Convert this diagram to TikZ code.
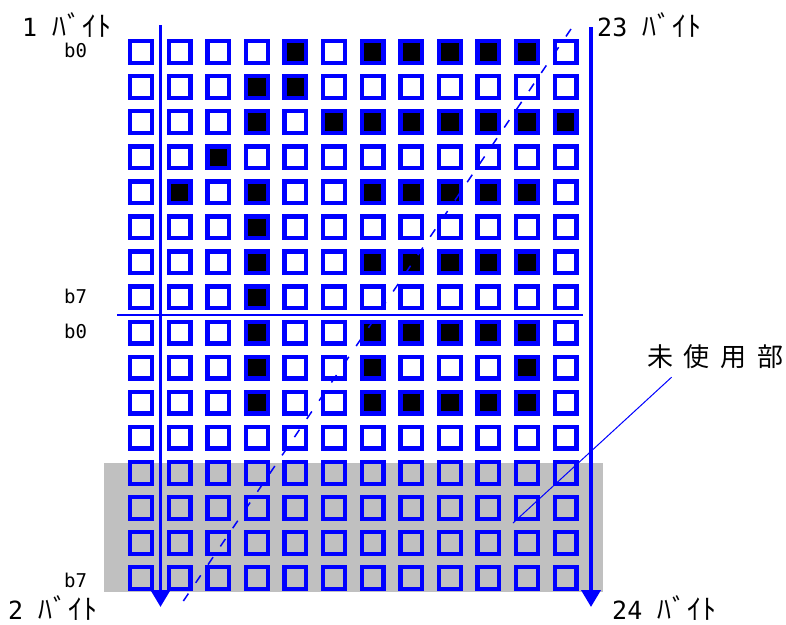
\documentclass[tikz,border=0pt]{standalone}
\usepackage{fontspec}
\usepackage{tikz}
\usetikzlibrary{arrows.meta,calc}
\newfontfamily\kanafont[LetterSpace=4]{Noto Sans CJK JP}
\newfontfamily\kanjifont[LetterSpace=41]{Noto Sans CJK JP}
\newfontfamily\numfont{DejaVu Sans Mono}
\definecolor{dotblue}{RGB}{0,0,255}
\definecolor{unusedgray}{RGB}{192,192,192}
\newcommand{\bytelbl}[1]{{\numfont #1 }{\kanafont\fontsize{28}{28}\selectfont ﾊﾞｲﾄ}}
\tikzset{
	cell/.style={draw=dotblue, line width=4.3pt, minimum size=21.7pt, inner sep=0pt},
	bytearrow/.style={draw=dotblue, line width=3.8pt, -{Triangle[width=19pt,length=17pt]}},
	bytelabel/.style={font=\fontsize{25}{25}\selectfont, inner sep=0pt, anchor=base west},
	bitlabel/.style={font=\numfont\fontsize{19}{19}\selectfont, inner sep=0pt, anchor=base west},
}

\begin{document}
\begin{tikzpicture}[x=1pt,y=-1pt]
						\useasboundingbox (0,0) rectangle (786,624);
						\fill[unusedgray] (104,463) rectangle (603,592);
						
						\foreach \r in {0,...,15}
							\foreach \c in {0,...,11}
								\node[cell] (s-\r-\c) at ({141+38.6*\c},{52+35.07*\r}) {};
						\foreach \r/\cols in {0/{4,6,7,8,9,10}, 1/{3,4}, 2/{3,5,6,7,8,9,10,11}, 3/{2}, 4/{1,3,6,7,8,9,10}, 5/{3}, 6/{3,6,7,8,9,10}, 7/{3}, 8/{3,6,7,8,9,10}, 9/{3,6,10}, 10/{3,6,7,8,9,10}}
							\foreach \c in \cols
								\node[cell, fill=black] (f-\r-\c) at (s-\r-\c) {};
						
						\coordinate (la-top) at (160.5,25);
						\coordinate (la-bot) at (160.5,607);
						\coordinate (ra-top) at (591,27);
						\coordinate (ra-bot) at (591,607);
						\coordinate (dv-l) at (117,315);
						\coordinate (dv-r) at (583,315);
						\coordinate (dg-top) at (571,29);
						\coordinate (dg-bot) at (182,603);
						\coordinate (unused) at (513,523);
						
						\draw[bytearrow] (la-top) -- (la-bot);
						\draw[bytearrow] (ra-top) -- (ra-bot);
						\draw[dotblue, line width=1.5pt] (dv-l) -- (dv-r);
						\draw[dotblue, line width=1.5pt, dash pattern=on 9pt off 13pt] (dg-top) -- (dg-bot);
						
						\node[bytelabel] (b1) at (22,36) {\bytelbl{1}};
						\node[bytelabel] (b23) at (597,36) {\bytelbl{23}};
						\node[bytelabel] (b2) at (8,619) {\bytelbl{2}};
						\node[bytelabel] (b24) at (612,619) {\bytelbl{24}};
						
						\node[bitlabel] (hi-b0) at (64,57) {b0};
						\node[bitlabel] (hi-b7) at (64,303) {b7};
						\node[bitlabel] (lo-b0) at (64,338) {b0};
						\node[bitlabel] (lo-b7) at (64,587) {b7};
						
						\node[font=\kanjifont\fontsize{26}{26}\selectfont, inner sep=0pt, anchor=west] (lbl) at (647,357) {未使用部};
						\draw[dotblue, line width=1pt] ($(lbl.south west)!0.18!(lbl.south east)+(0,8)$) -- (unused);
					\end{tikzpicture}
\end{document}
